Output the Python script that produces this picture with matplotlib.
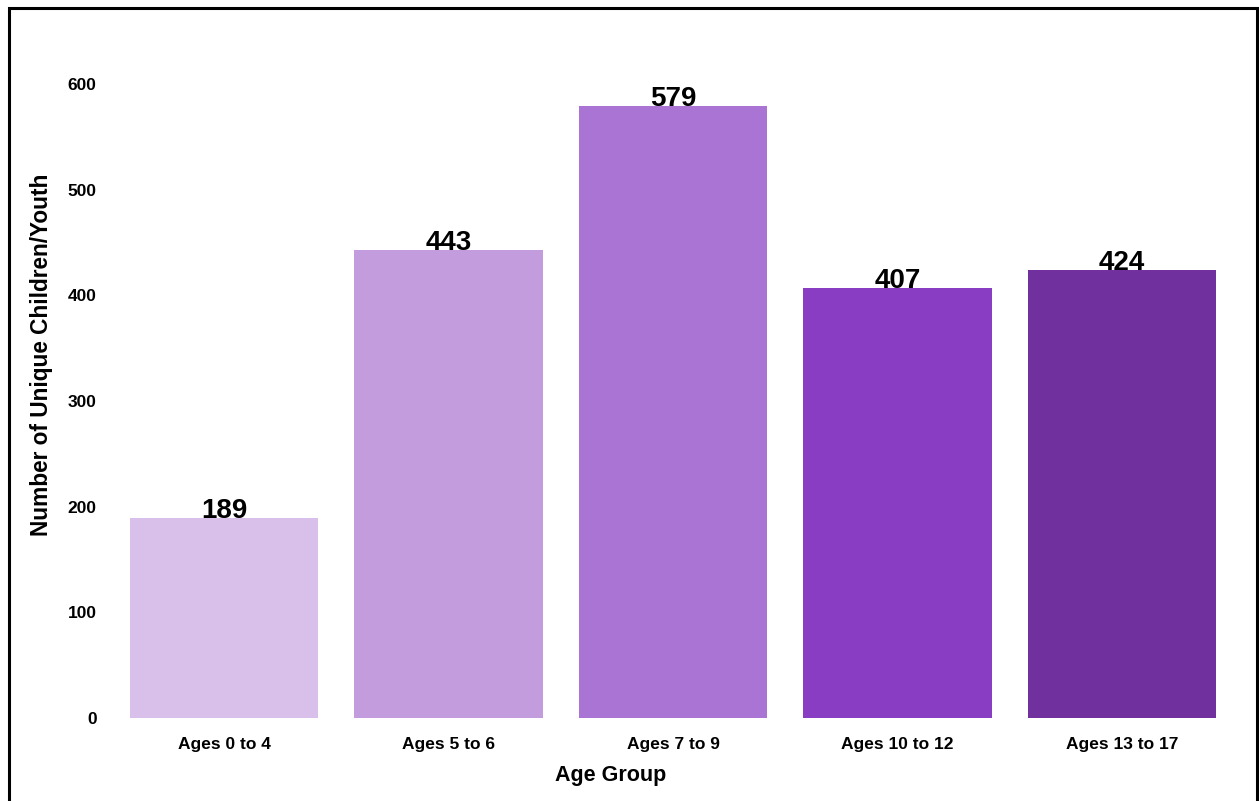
import matplotlib
matplotlib.use("Agg")
import matplotlib.pyplot as plt
from matplotlib.patches import Rectangle

plt.rcParams['font.family'] = ['Liberation Sans', 'DejaVu Sans']

age_groups = ["Ages 0 to 4", "Ages 5 to 6", "Ages 7 to 9", "Ages 10 to 12", "Ages 13 to 17"]
children = [189, 443, 579, 407, 424]
bar_colors = ["#D9C0EA", "#C39CDE", "#A974D3", "#893DC2", "#70309D"]
y_ticks = [0, 100, 200, 300, 400, 500, 600]

W, H = 1259, 801
fig = plt.figure(figsize=(W / 100, H / 100), dpi=100)
ax_left, ax_right = 112, 1234
ax_bottom, ax_top = 718, 63
ax = fig.add_axes([ax_left / W, 1 - ax_bottom / H,
                   (ax_right - ax_left) / W, (ax_bottom - ax_top) / H])

x = list(range(len(age_groups)))
ax.bar(x, children, width=0.84, color=bar_colors)
for xi, v in zip(x, children):
    ax.text(xi, v, f"{v}", ha="center", va="baseline",
            fontsize=20, fontweight="bold", color="black")

ax.set_xlim(-0.5, len(age_groups) - 0.5)
ax.set_ylim(0, 620)
ax.set_yticks(y_ticks)
ax.set_xticks(x)
ax.set_xticklabels(age_groups)
ax.tick_params(axis="both", length=0)
ax.tick_params(axis="y", pad=11, labelsize=12.5)
ax.tick_params(axis="x", pad=14, labelsize=12.5)
for lab in ax.get_xticklabels() + ax.get_yticklabels():
    lab.set_fontweight("bold")
for s in ax.spines.values():
    s.set_visible(False)

ax.set_xlabel("Age Group", fontsize=15.5, fontweight="bold")
ax.xaxis.set_label_coords((611 - ax_left) / (ax_right - ax_left),
                          -(765 - ax_bottom) / (ax_bottom - ax_top))
ax.set_ylabel("Number of Unique Children/Youth", fontsize=16.3, fontweight="bold")
ax.yaxis.set_label_coords(-(ax_left - 53) / (ax_right - ax_left),
                          (ax_bottom - 355) / (ax_bottom - ax_top))

# frame around the whole figure (open at the bottom edge)
fig.patches.append(Rectangle((8.5 / W, -0.02), (1257 - 8.5) / W, 1 + 0.02 - 8 / H,
                             transform=fig.transFigure, fill=False,
                             edgecolor="black", linewidth=2.2))

fig.savefig("out.png", dpi=100)
